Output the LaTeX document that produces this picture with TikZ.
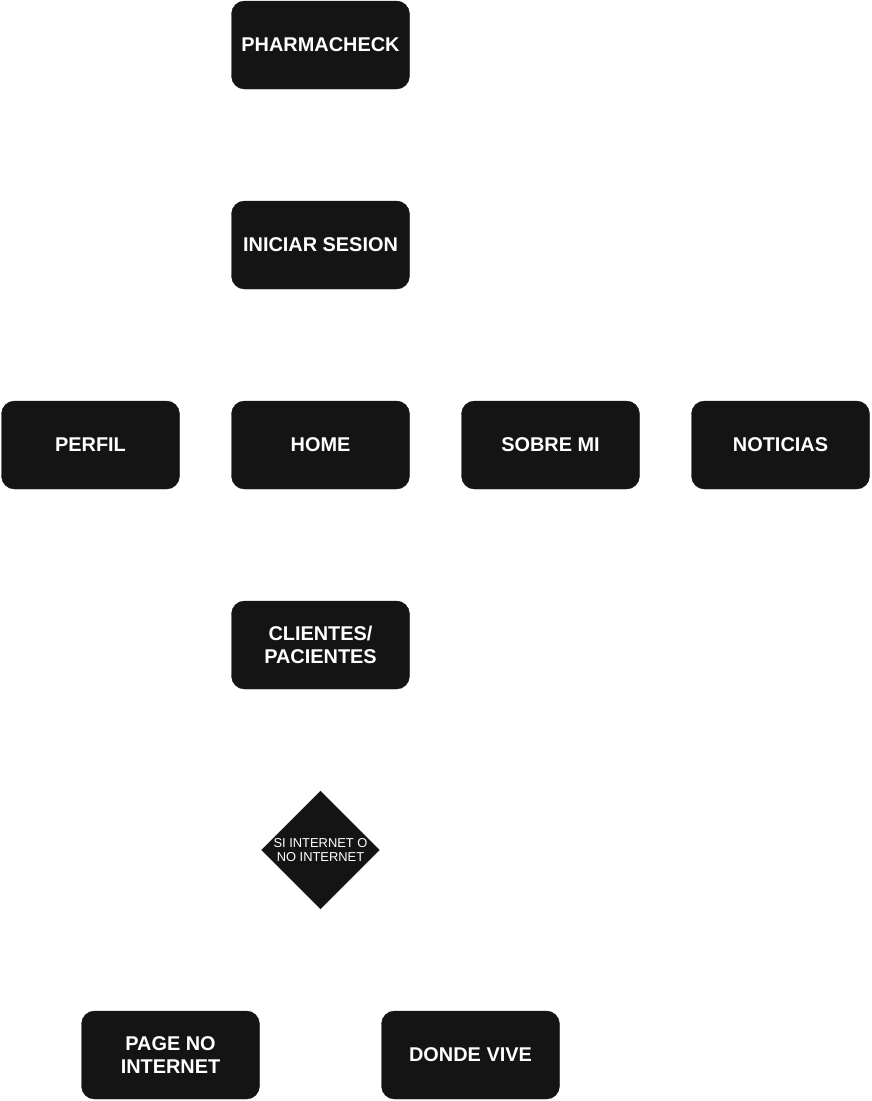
\documentclass[tikz,border=0pt]{standalone}
\usepackage{fontspec}
\setmainfont{Liberation Sans}
\usepackage{xcolor}
\usetikzlibrary{shapes.geometric}
\definecolor{boxfill}{HTML}{141414}
\tikzset{
  screen/.style={rectangle, rounded corners=13pt, fill=boxfill, draw=boxfill,
    minimum width=178pt, minimum height=88pt, inner sep=2pt, text=white,
    align=center, font=\fontsize{19.9}{23.5}\selectfont\bfseries},
  choice/.style={diamond, fill=boxfill, draw=boxfill, inner sep=0pt,
    minimum width=118pt, minimum height=118pt, text=white}
}

\begin{document}
\begin{tikzpicture}[x=1pt,y=-1pt]
			\useasboundingbox (0,0) rectangle (871,1101);
			% main column
			\node[screen] (pharma) at (320.5,45) {PHARMACHECK};
			\node[screen] (login) at (320.5,245) {INICIAR SESION};
			% menu row
			\node[screen] (perfil) at (90.5,445) {PERFIL};
			\node[screen] (home) at (320.5,445) {HOME};
			\node[screen] (sobre) at (550.5,445) {SOBRE MI};
			\node[screen] (noticias) at (780.5,445) {NOTICIAS};
			% clients
			\node[screen] (clientes) at (320.5,645) {CLIENTES/\\PACIENTES};
			% decision
			\node[choice] (internet) at (320.5,850) {};
			\node[text=white, align=center, font=\fontsize{12.9}{14.8}\selectfont] (internettext) at (internet.center) {SI INTERNET O\\NO INTERNET};
			% results
			\node[screen] (nointernet) at (170.5,1055) {PAGE NO\\INTERNET};
			\node[screen] (donde) at (470.5,1055) {DONDE VIVE};
		\end{tikzpicture}
\end{document}
